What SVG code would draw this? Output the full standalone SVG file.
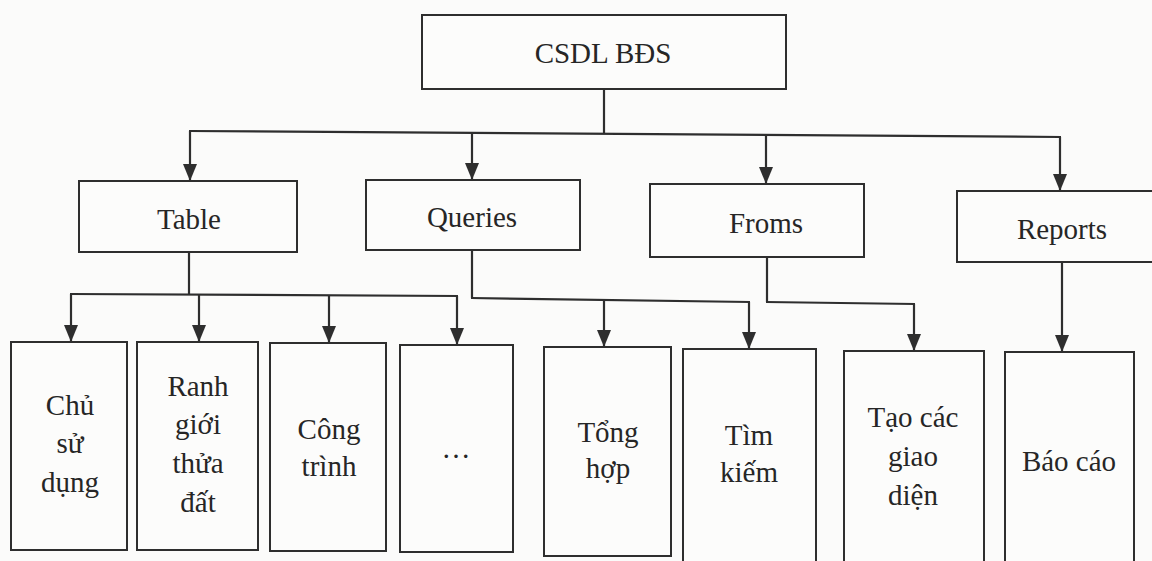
<svg xmlns="http://www.w3.org/2000/svg" width="1152" height="561" viewBox="0 0 1152 561">
<style>
.box{fill:#fcfcfb;stroke:#2e2e2e;stroke-width:2}
.t{font-family:'Liberation Serif','DejaVu Serif',serif;font-size:29px;fill:#262626;text-anchor:middle}
.c{fill:none;stroke:#2e2e2e;stroke-width:2.2}
</style>
<defs>
<marker id="ah" markerUnits="userSpaceOnUse" viewBox="0 0 17 14" refX="17" refY="7" markerWidth="17" markerHeight="14" orient="auto">
<path d="M0,0 L17,7 L0,14 z" fill="#2e2e2e"/>
</marker>
</defs>
<rect x="0" y="0" width="1152" height="561" fill="#fbfbfa"/>
<g id="connectors">
<line class="c" x1="604" y1="89" x2="604" y2="133"/>
<line class="c" x1="189" y1="131" x2="1061" y2="137"/>
<line class="c" x1="190" y1="131" x2="190" y2="181" marker-end="url(#ah)"/>
<line class="c" x1="472" y1="133" x2="472" y2="180" marker-end="url(#ah)"/>
<line class="c" x1="766" y1="135" x2="766" y2="184" marker-end="url(#ah)"/>
<line class="c" x1="1060" y1="137" x2="1060" y2="191" marker-end="url(#ah)"/>
<line class="c" x1="189" y1="252" x2="189" y2="295"/>
<line class="c" x1="70" y1="294" x2="458" y2="296"/>
<line class="c" x1="71" y1="294" x2="71" y2="342" marker-end="url(#ah)"/>
<line class="c" x1="199" y1="294" x2="199" y2="342" marker-end="url(#ah)"/>
<line class="c" x1="329" y1="295" x2="329" y2="343" marker-end="url(#ah)"/>
<line class="c" x1="457" y1="296" x2="457" y2="345" marker-end="url(#ah)"/>
<line class="c" x1="472" y1="250" x2="472" y2="298"/>
<line class="c" x1="471" y1="298" x2="750" y2="302"/>
<line class="c" x1="604" y1="300" x2="604" y2="347" marker-end="url(#ah)"/>
<line class="c" x1="749" y1="302" x2="749" y2="349" marker-end="url(#ah)"/>
<line class="c" x1="767" y1="257" x2="767" y2="302"/>
<line class="c" x1="766" y1="302" x2="915" y2="304"/>
<line class="c" x1="914" y1="304" x2="914" y2="351" marker-end="url(#ah)"/>
<line class="c" x1="1062" y1="262" x2="1062" y2="352" marker-end="url(#ah)"/>
</g>
<g id="root"><rect class="box" x="422" y="15" width="364" height="74"/><text class="t" x="603" y="63">CSDL BĐS</text></g>
<g id="table"><rect class="box" x="79" y="181" width="218" height="71"/><text class="t" x="189" y="229">Table</text></g>
<g id="queries"><rect class="box" x="366" y="180" width="214" height="70"/><text class="t" x="472" y="227">Queries</text></g>
<g id="froms"><rect class="box" x="650" y="184" width="214" height="73"/><text class="t" x="766" y="233">Froms</text></g>
<g id="reports"><rect class="box" x="957" y="191" width="210" height="71"/><text class="t" x="1062" y="239">Reports</text></g>
<g id="chusudung"><rect class="box" x="11" y="342" width="116" height="208"/><text class="t" x="70"><tspan x="70" y="415">Chủ</tspan><tspan x="70" y="453">sử</tspan><tspan x="70" y="492">dụng</tspan></text></g>
<g id="ranhgioi"><rect class="box" x="137" y="342" width="121" height="208"/><text class="t" x="198"><tspan x="198" y="396">Ranh</tspan><tspan x="198" y="434">giới</tspan><tspan x="198" y="473">thửa</tspan><tspan x="198" y="512">đất</tspan></text></g>
<g id="congtrinh"><rect class="box" x="270" y="343" width="116" height="208"/><text class="t" x="329"><tspan x="329" y="439">Công</tspan><tspan x="329" y="476">trình</tspan></text></g>
<g id="khac"><rect class="box" x="400" y="345" width="113" height="207"/><text class="t" x="456" y="458">…</text></g>
<g id="tonghop"><rect class="box" x="544" y="347" width="127" height="209"/><text class="t" x="608"><tspan x="608" y="442">Tổng</tspan><tspan x="608" y="478">hợp</tspan></text></g>
<g id="timkiem"><rect class="box" x="683" y="349" width="133" height="220"/><text class="t" x="749"><tspan x="749" y="445">Tìm</tspan><tspan x="749" y="482">kiếm</tspan></text></g>
<g id="taocacgiaodien"><rect class="box" x="844" y="351" width="140" height="218"/><text class="t" x="913"><tspan x="913" y="427">Tạo các</tspan><tspan x="913" y="466">giao</tspan><tspan x="913" y="505">diện</tspan></text></g>
<g id="baocao"><rect class="box" x="1005" y="352" width="129" height="217"/><text class="t" x="1069" y="471">Báo cáo</text></g>
</svg>
